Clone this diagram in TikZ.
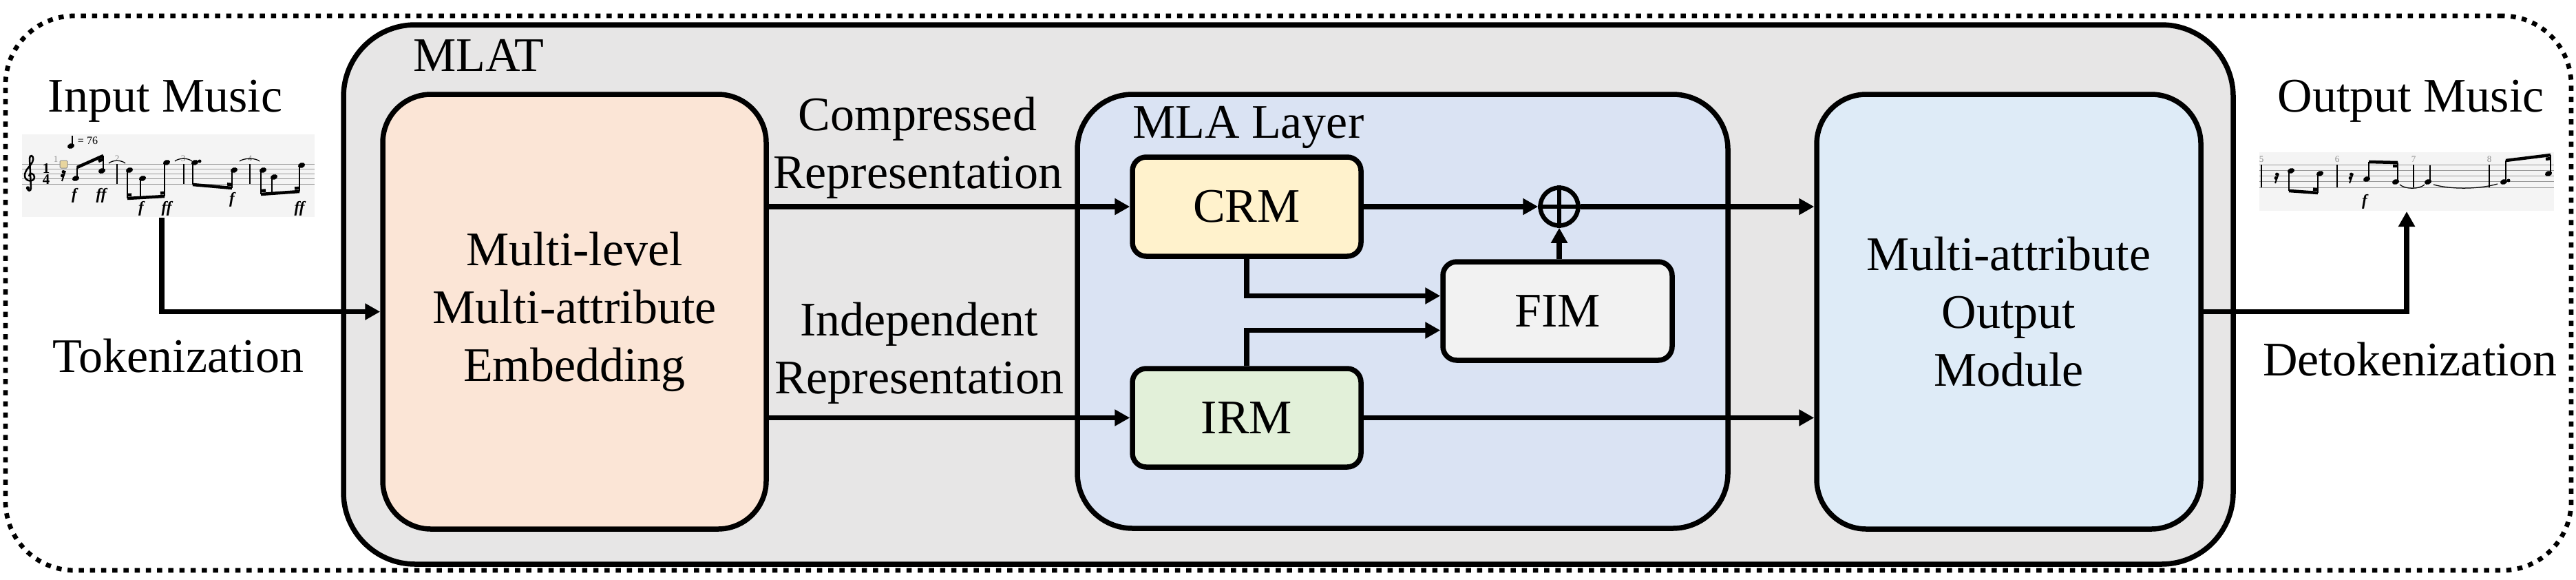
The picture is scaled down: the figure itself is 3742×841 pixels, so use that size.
\documentclass[tikz,border=0pt]{standalone}
\usepackage{fontspec}
\setmainfont{Liberation Serif}
\usetikzlibrary{arrows.meta,fit,calc}
\definecolor{mlatgray}{HTML}{E7E6E6}
\definecolor{embcol}{HTML}{FBE5D6}
\definecolor{mlacol}{HTML}{DAE3F3}
\definecolor{crmcol}{HTML}{FFF2CC}
\definecolor{irmcol}{HTML}{E2F0D9}
\definecolor{fimcol}{HTML}{F2F2F2}
\definecolor{outcol}{HTML}{DEEBF7}
\definecolor{scorebg}{HTML}{F4F4F4}
\definecolor{selbox}{HTML}{E8D59E}
\newcommand\nhd[2]{\fill[rotate around={20:(#1,#2)}] (#1,#2) ellipse [x radius=1.05pt, y radius=0.75pt];}
\tikzset{
  box/.style={draw=black, line width=1.5pt, inner sep=0pt},
  arr/.style={line width=1.5pt, -{Triangle[length=4.4pt,width=4.6pt]}},
  lbl/.style={font=\fontsize{14}{16.8}\selectfont, inner sep=0pt, align=center},
  staffl/.style={draw=black!40, line width=0.2pt},
  stemm/.style={line width=0.3pt},
  beamm/.style={line width=0.9pt},
  tiee/.style={line width=0.25pt},
  dyn/.style={font=\fontsize{4.6}{5}\selectfont\bfseries\itshape, inner sep=0pt},
  mnum/.style={font=\fontsize{2.6}{3}\selectfont, text=black!45, inner sep=0pt},
}
\begin{document}
\begin{tikzpicture}[x=0.2pt,y=-0.2pt]
\useasboundingbox (0,0) rectangle (3742,841);

% outer dotted frame
\node[draw, line width=1.35pt, dash pattern=on 1.5pt off 1.75pt, rounded corners=20pt,
      fit={(8,23)(3735,828)}, inner sep=0pt] (frame) {};

% MLAT container
\node[box, fill=mlatgray, rounded corners=20.8pt, fit={(499,36)(3244,819)}] (mlat) {};
\node[lbl, anchor=base west] (mlatl) at (599,103) {MLAT};

% embedding
\node[box, lbl, fill=embcol, rounded corners=14pt, minimum width=111.4pt, minimum height=126.2pt]
  (emb) at (834.5,452.5) {Multi-level\\Multi-attribute\\Embedding};

% MLA layer
\node[box, fill=mlacol, rounded corners=16pt, fit={(1565,137)(2510,767)}] (mla) {};
\node[lbl, anchor=base west] (mlal) at (1644,200) {MLA Layer};

% output module
\node[box, lbl, fill=outcol, rounded corners=14.4pt, minimum width=111.6pt, minimum height=126.2pt]
  (outm) at (2918,452.5) {Multi-attribute\\Output\\Module};

% inner modules
\node[box, lbl, fill=crmcol, rounded corners=4pt, minimum width=66.4pt, minimum height=28.8pt]
  (crm) at (1811,300) {CRM};
\node[box, lbl, fill=irmcol, rounded corners=4pt, minimum width=66.4pt, minimum height=28.6pt]
  (irm) at (1811,606.5) {IRM};
\node[box, lbl, fill=fimcol, rounded corners=4pt, minimum width=66.6pt, minimum height=28.6pt]
  (fim) at (2262.5,451.5) {FIM};

% sum
\node[draw, line width=1.3pt, circle, minimum size=11pt, inner sep=0pt] (sum) at (2265,300) {};
\draw[line width=1.3pt] (sum.north) -- (sum.south) (sum.west) -- (sum.east);

% labels
\node[lbl] (cmpl) at (1333,215) {Compressed\\Representation};
\node[lbl] (indl) at (1335,513) {Independent\\Representation};
\node[lbl, anchor=base] (inl) at (240,162) {Input Music};
\node[lbl, anchor=base] (outl) at (3502,162) {Output Music};
\node[lbl, anchor=base] (tokl) at (259,540) {Tokenization};
\node[lbl, anchor=base] (detl) at (3501,545) {Detokenization};

% score backgrounds
\node[fill=scorebg, inner sep=0pt, fit={(32,195)(457,315)}] (insc) {};
\node[fill=scorebg, inner sep=0pt, fit={(3282,221)(3710,306)}] (outsc) {};

% connectors
\draw[arr] ([xshift=-1.9pt]insc.south) |- (emb.west);
\draw[arr] (emb.east |- crm.west) -- (crm.west);
\draw[arr] (emb.east |- irm.west) -- (irm.west);
\draw[arr] (crm.east) -- (sum.west);
\draw[arr] (sum.east) -- (outm.west |- sum.east);
\draw[arr] (irm.east) -- (outm.west |- irm.east);
\draw[arr] (sum.south |- fim.north) -- (sum.south);
\draw[arr] (crm.south) |- ($(fim.west)+(0,-22)$);
\draw[arr] (irm.north) |- ($(fim.west)+(0,28)$);
\draw[arr] (outm.east) -| (outsc.south);

% ---------- input score ----------
\foreach \yy in {238,245.25,252.5,259.75,267} \draw[staffl] (32,\yy) -- (457,\yy);
% clef
\draw[line width=0.5pt] (40,273) .. controls (40,278) and (45,278) .. (45,273) -- (43,230)
  .. controls (43,224) and (49,225) .. (48,232) .. controls (47,240) and (36,245) .. (36,255)
  .. controls (36,264) and (50,265) .. (50,257) .. controls (50,251) and (42,250) .. (42,256);
\fill (40.5,273) circle (0.55pt);
\node[font=\fontsize{4.2}{4}\selectfont\bfseries, inner sep=0pt] at (67,245) {1};
\node[font=\fontsize{4.2}{4}\selectfont\bfseries, inner sep=0pt] at (67,261) {4};
% tempo
\nhd{103}{212}
\draw[stemm] (104.9,211) -- (104.9,197);
\node[anchor=west, font=\fontsize{3.2}{3}\selectfont, inner sep=0pt] at (112,204) {= 76};
% measure numbers
\node[mnum] at (81,231) {1};
\node[mnum] at (170,230) {2};
\node[mnum] at (266,230) {3};
\node[mnum] at (363,230) {4};
% selection box and rest
\filldraw[fill=selbox, draw=black!45, line width=0.2pt, rounded corners=0.3pt] (87,233) rectangle (98,244);
\draw[line width=0.4pt] (95,248) -- (90,263);
\fill (92,249.5) circle (0.5pt); \fill (90.5,255) circle (0.5pt);
% measure 1
\nhd{110}{259} \nhd{148}{248}
\draw[stemm] (112,258) -- (112,243);
\draw[stemm] (150,247) -- (150,226);
\draw[beamm] (112,243) -- (150,226);
\draw[beamm] (143,234) -- (150,231);
\node[dyn] at (108,284) {f};
\node[dyn] at (147,284) {ff};
\draw[stemm] (170,238) -- (170,267);
\draw[tiee] (158,237) .. controls (164,232) and (176,232) .. (182,237);
% measure 2
\nhd{188}{247} \nhd{207}{259} \nhd{242}{236}
\draw[stemm] (185,247) -- (185,288);
\draw[stemm] (204,259) -- (204,287);
\draw[stemm] (239,236) -- (239,285);
\draw[beamm] (185,288) -- (239,285);
\draw[beamm] (185,283) -- (191,282.7);
\draw[beamm] (233,280.4) -- (239,280);
\node[dyn] at (205,303) {f};
\node[dyn] at (242,303) {ff};
\draw[tiee] (254,234) .. controls (260,229) and (273,229) .. (279,234);
\draw[stemm] (267,238) -- (267,267);
% measure 3
\nhd{283}{236} \fill (290,234) circle (0.5pt);
\nhd{340}{247}
\draw[stemm] (280,236) -- (280,268);
\draw[stemm] (337,247) -- (337,273);
\draw[beamm] (280,268) -- (337,273);
\draw[beamm] (330,267.4) -- (337,268);
\node[dyn] at (337,290) {f};
\draw[tiee] (348,234) .. controls (355,229) and (371,229) .. (377,234);
\draw[stemm] (363,238) -- (363,267);
% measure 4
\nhd{382}{247} \nhd{398}{257} \nhd{438}{240}
\draw[stemm] (379,247) -- (379,282);
\draw[stemm] (395,257) -- (395,281);
\draw[stemm] (435,240) -- (435,278);
\draw[beamm] (379,282) -- (435,278);
\draw[beamm] (379,277) -- (386,276.5);
\draw[beamm] (428,273.5) -- (435,273);
\node[dyn] at (435,303) {ff};

% ---------- output score ----------
\foreach \yy in {239,247.25,255.5,263.75,272} \draw[staffl] (3282,\yy) -- (3710,\yy);
\foreach \xx/\nn in {3285/5,3395/6,3506/7,3616/8} {
  \draw[stemm] (\xx,239) -- (\xx,272);
  \node[mnum] at (\xx,231) {\nn};
}
% measure 5
\draw[line width=0.4pt] (3310,252) -- (3305,266);
\fill (3307.5,253) circle (0.5pt); \fill (3306,258.5) circle (0.5pt);
\nhd{3328}{248} \nhd{3370}{252}
\draw[stemm] (3325,248) -- (3325,277);
\draw[stemm] (3367,252) -- (3367,280);
\draw[beamm] (3325,277) -- (3367,280);
\draw[beamm] (3360,274.6) -- (3367,275.1);
% measure 6
\draw[line width=0.4pt] (3418,252) -- (3413,266);
\fill (3415.5,253) circle (0.5pt); \fill (3414,258.5) circle (0.5pt);
\nhd{3438}{260} \nhd{3480}{264}
\draw[stemm] (3441,260) -- (3441,235);
\draw[stemm] (3483,264) -- (3483,236);
\draw[beamm] (3441,235) -- (3483,236);
\draw[beamm] (3476,240.8) -- (3483,241);
\node[dyn] at (3435,293) {f};
\draw[tiee] (3486,268) .. controls (3494,275) and (3514,275) .. (3522,268);
% measure 7
\nhd{3527}{264}
\draw[stemm] (3530,264) -- (3530,240);
\draw[tiee] (3535,268) .. controls (3560,275) and (3600,275) .. (3628,267);
% measure 8
\nhd{3637}{264} \fill (3644,262) circle (0.5pt);
\nhd{3702}{252}
\draw[stemm] (3640,264) -- (3640,233);
\draw[stemm] (3705,252) -- (3705,225);
\draw[beamm] (3640,233) -- (3705,225);
\draw[beamm] (3698,230.9) -- (3705,230);
\end{tikzpicture}
\end{document}
